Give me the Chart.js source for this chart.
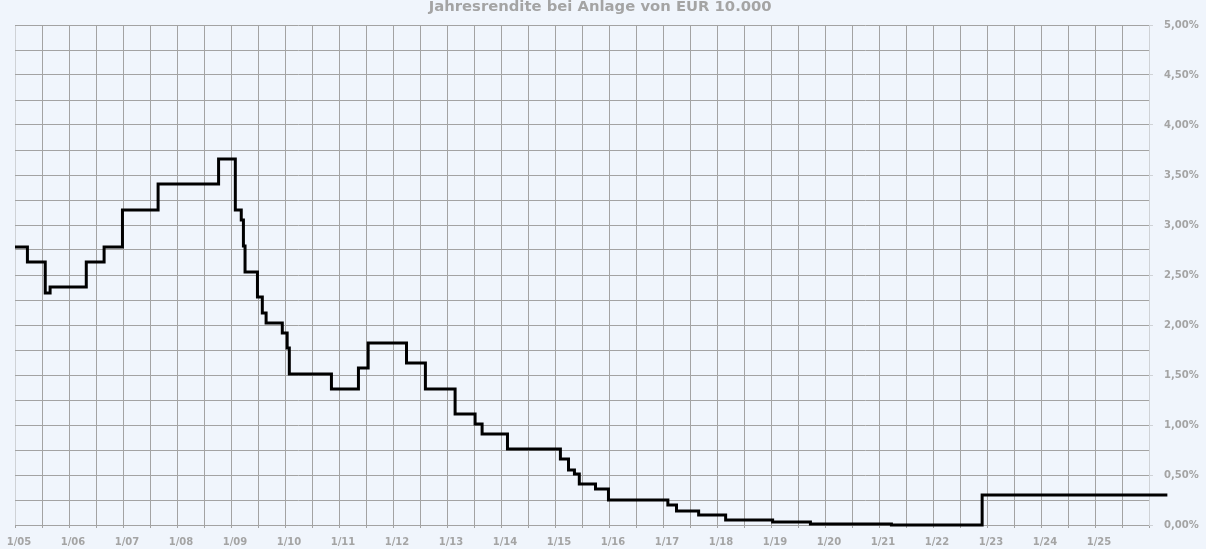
<!DOCTYPE html>
<html lang="de">
<head>
  <meta charset="UTF-8">
  <title>Jahresrendite bei Anlage von EUR 10.000</title>
  <script src="https://cdn.jsdelivr.net/npm/chart.js"></script>
  <style>
    html, body { margin: 0; padding: 0; background: #f0f5fc; }
    #wrap { width: 1206px; height: 549px; }
  </style>
</head>
<body>
<div id="wrap"><canvas id="rendite" width="1206" height="549"></canvas></div>
<script>
// Zeitpunkte der Zinsänderung (Dezimaljahr) und Rendite in %
const changeDates = [
  2005.00, 2005.23, 2005.56, 2005.65, 2006.32, 2006.65, 2006.99, 2007.65,
  2008.77, 2009.08, 2009.19, 2009.23, 2009.26, 2009.49, 2009.58, 2009.65,
  2009.95, 2010.04, 2010.08, 2010.86, 2011.36, 2011.54, 2012.25, 2012.60,
  2013.15, 2013.52, 2013.65, 2014.12, 2015.10, 2015.25, 2015.36, 2015.45,
  2015.75, 2015.99, 2017.09, 2017.25, 2017.66, 2018.16, 2019.03, 2019.73,
  2021.23, 2022.91, 2026.34
];
const rates = [
  2.78, 2.63, 2.32, 2.38, 2.63, 2.78, 3.15, 3.41,
  3.66, 3.15, 3.05, 2.79, 2.53, 2.28, 2.12, 2.02,
  1.92, 1.77, 1.51, 1.36, 1.57, 1.82, 1.62, 1.36,
  1.11, 1.01, 0.91, 0.76, 0.66, 0.55, 0.51, 0.41,
  0.36, 0.25, 0.20, 0.14, 0.10, 0.05, 0.03, 0.01,
  0.00, 0.30, 0.30
];
const yearFrom = 2005, yearTo = 2026;
const rateMax = 5;

const gridGrey = '#a3a3a3';
const lightGrey = '#cfd2d6';
const labelGrey = '#a4a4a4';
const fontFam = '"DejaVu Sans", Verdana, sans-serif';

const points = changeDates.map((d, i) => ({ x: d, y: rates[i] }));

const bg = {
  id: 'bg',
  beforeDraw(chart) {
    const c = chart.ctx;
    c.save();
    c.fillStyle = '#f0f5fc';
    c.fillRect(0, 0, chart.width, chart.height);
    c.restore();
  }
};

new Chart(document.getElementById('rendite'), {
  type: 'line',
  data: {
    datasets: [{
      data: points,
      stepped: true,
      borderColor: '#000',
      borderWidth: 3,
      pointRadius: 0,
      fill: false,
      clip: false
    }]
  },
  options: {
    responsive: false,
    animation: false,
    layout: { padding: { left: 15, right: 0, top: 0, bottom: 0 } },
    plugins: {
      legend: { display: false },
      tooltip: { enabled: false },
      title: {
        display: true,
        // nachgestellte Leerzeichen rücken den Titel etwas nach links
        text: 'Jahresrendite bei Anlage von EUR 10.000\u00a0\u00a0\u00a0\u00a0',
        color: labelGrey,
        font: { family: fontFam, size: 14.8, weight: 'bold', lineHeight: 1 },
        padding: { top: 0, bottom: 10.2 }
      }
    },
    scales: {
      x: {
        type: 'linear',
        min: yearFrom,
        max: yearTo,
        afterFit: s => { s.height = 24; s.paddingLeft = 0; s.paddingRight = 0; },
        grid: {
          color: ctx => (ctx.tick && (ctx.tick.value === yearFrom || ctx.tick.value === yearTo)) ? lightGrey : gridGrey,
          tickColor: gridGrey,
          tickLength: 3
        },
        border: { color: gridGrey },
        ticks: {
          stepSize: 0.5,
          autoSkip: false,
          maxRotation: 0,
          labelOffset: 4,
          padding: 8,
          color: labelGrey,
          font: { family: fontFam, size: 10, weight: 'bold' },
          callback: v => (Number.isInteger(v) && v < yearTo) ? '1/' + String(v).slice(2) : ''
        }
      },
      y: {
        position: 'right',
        min: 0,
        max: rateMax,
        afterFit: s => { s.width = 57; s.paddingTop = 0; s.paddingBottom = 0; },
        grid: {
          color: gridGrey,
          tickColor: ctx => (ctx.tick && Math.round(ctx.tick.value * 100) % 50 === 0) ? lightGrey : 'rgba(0,0,0,0)',
          tickLength: 4
        },
        border: { color: lightGrey },
        ticks: {
          stepSize: 0.25,
          autoSkip: false,
          padding: 11,
          color: labelGrey,
          font: { family: fontFam, size: 10, weight: 'bold' },
          callback: v => Math.round(v * 100) % 50 === 0 ? v.toFixed(2).replace('.', ',') + '%' : ''
        }
      }
    }
  },
  plugins: [bg]
});
</script>
</body>
</html>
